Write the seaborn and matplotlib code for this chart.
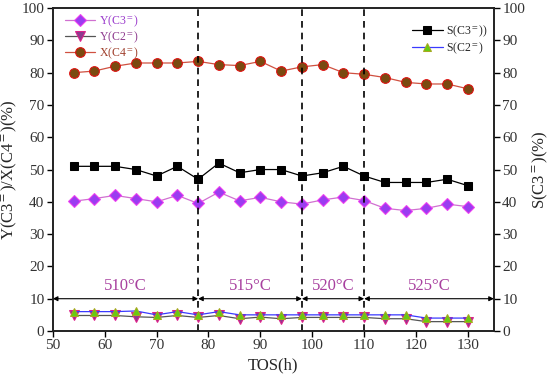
import matplotlib
matplotlib.use("Agg")
import matplotlib.pyplot as plt
import seaborn as sns
import pandas as pd

tos = [54, 58, 62, 66, 70, 74, 78, 82, 86, 90, 94, 98, 102, 106, 110, 114, 118, 122, 126, 130]
x_c4 = [80, 80.5, 82, 83, 83, 83, 83.5, 82.5, 82.2, 83.5, 80.5, 81.8, 82.5, 80, 79.5, 78.5, 77, 76.5, 76.5, 75]
y_c3 = [40.2, 41, 42, 41, 40, 42, 39.5, 43, 40.3, 41.4, 40, 39.3, 40.6, 41.5, 40.4, 38, 37.3, 38, 39.3, 38.5]
y_c2 = [4.8, 4.8, 4.8, 4.4, 4.2, 4.8, 4.2, 4.8, 3.8, 4.3, 3.8, 4.2, 4.2, 4.2, 4.2, 3.8, 3.8, 2.9, 2.9, 2.9]
s_c3 = [51, 51, 51, 50, 48, 51, 47, 52, 49, 50, 50, 48, 49, 51, 48, 46, 46, 46, 47, 45]
s_c2 = [6, 6, 6, 6.2, 5, 6, 5, 6, 5, 5, 5, 5, 5, 5, 5, 5, 5, 4, 4, 4]

boundaries = [78, 98, 110]
seg_edges = [50, 78, 98, 110, 135]
seg_labels = ["510°C", "515°C", "520°C", "525°C"]
seg_label_x = [64, 88, 104, 122.5]

sns.set_theme(style="ticks")
plt.rcParams["font.family"] = ["Liberation Serif", "DejaVu Serif"]
plt.rcParams["mathtext.fontset"] = "stix"

df = pd.DataFrame({"tos": tos, "x_c4": x_c4, "y_c3": y_c3, "y_c2": y_c2, "s_c3": s_c3, "s_c2": s_c2})

fig = plt.figure(figsize=(5.5, 3.86), dpi=100)
ax = fig.add_axes([0.096, 0.1425, 0.802, 0.8365])
ax2 = ax.twinx()

sns.lineplot(data=df, x="tos", y="y_c3", ax=ax, color="#d070d0", lw=0.9, marker="D",
             markersize=6, markerfacecolor="#9b3cf0", markeredgecolor="#f040f0",
             label="Y(C3$^{=}$)")
sns.lineplot(data=df, x="tos", y="y_c2", ax=ax, color="#555555", lw=0.9, marker="v",
             markersize=7, markerfacecolor="#8e3a8e", markeredgecolor="#e0208a",
             label="Y(C2$^{=}$)")
sns.lineplot(data=df, x="tos", y="x_c4", ax=ax, color="#d05040", lw=0.9, marker="o",
             markersize=7, markerfacecolor="#7a4a10", markeredgecolor="#e01010",
             label="X(C4$^{=}$)")

sns.lineplot(data=df, x="tos", y="s_c3", ax=ax2, color="black", lw=0.9, marker="s",
             markersize=6, markerfacecolor="black", markeredgecolor="black",
             label="S(C3$^{=}$))")
sns.lineplot(data=df, x="tos", y="s_c2", ax=ax2, color="#3a3aff", lw=0.9, marker="^",
             markersize=6, markerfacecolor="#66cc11", markeredgecolor="#a8a820",
             label="S(C2$^{=}$)")

for ax_ in (ax, ax2):
    ax_.set_xlim(50, 135)
    ax_.set_ylim(0, 100)
    ax_.set_yticks(range(0, 101, 10))

ax.set_xticks(range(50, 131, 10))
ax.set_xlabel("TOS(h)", fontsize=12)
ax.set_ylabel("Y(C3$^{=}$)/X(C4$^{=}$)(%)", fontsize=12, labelpad=2)
ax2.set_ylabel("S(C3$^{=}$)(%)", fontsize=12, labelpad=4)

for b in boundaries:
    ax.axvline(b, color="black", ls=(0, (4, 3)), lw=1.2)

for i in range(len(seg_labels)):
    ax.annotate("", xy=(seg_edges[i], 10), xytext=(seg_edges[i + 1], 10),
                arrowprops=dict(arrowstyle="<|-|>", color="black", lw=0.8,
                                mutation_scale=7, shrinkA=0, shrinkB=0))
    ax.text(seg_label_x[i], 14, seg_labels[i], ha="center", va="center",
            fontsize=12, color="#a8409f")

for a in (ax, ax2):
    a.tick_params(axis="both", direction="out", length=4, width=1, labelsize=11, colors="black")
    for s in a.spines.values():
        s.set_linewidth(1.2)
        s.set_color("#222222")
ax.tick_params(axis="y", labelcolor="#333333", pad=2)
ax2.tick_params(axis="y", labelcolor="#333333", pad=2)
ax.tick_params(axis="x", labelcolor="#333333", pad=2)

leg1 = ax.legend(loc="upper left", bbox_to_anchor=(0.027, 0.982), frameon=False, fontsize=8.5,
                 handlelength=2.6, labelspacing=0.05, borderaxespad=0, borderpad=0,
                 handletextpad=0.3)
for t, c in zip(leg1.get_texts(), ["#9a3acc", "#8e3a8e", "#a0402d"]):
    t.set_color(c)
leg2 = ax2.legend(loc="upper left", bbox_to_anchor=(0.814, 0.952), frameon=False, fontsize=8.5,
                  handlelength=2.6, labelspacing=0.1, borderaxespad=0, borderpad=0,
                  handletextpad=0.3)

fig.savefig("out.png", dpi=100)
